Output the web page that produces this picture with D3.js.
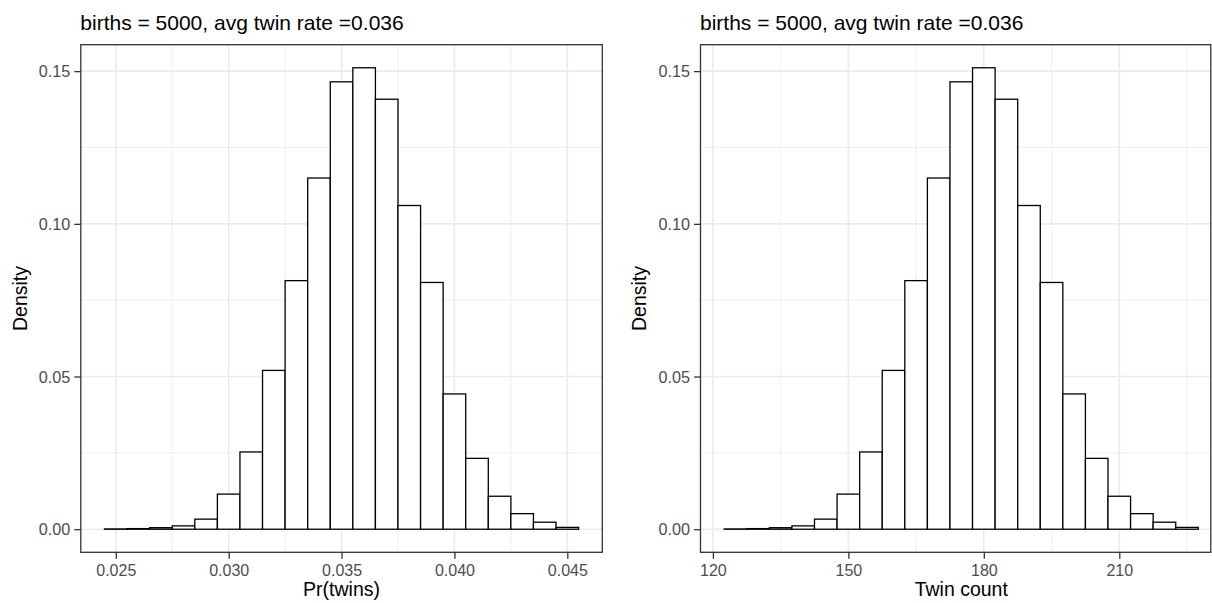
<!DOCTYPE html>
<html>
<head>
<meta charset="utf-8">
<script src="https://cdn.jsdelivr.net/npm/d3@7"></script>
<style>
  html, body { margin: 0; padding: 0; background: #ffffff; overflow: hidden; }
  svg { display: block; }
</style>
</head>
<body>
<div id="chart"></div>
<script>
// ---------------- data ----------------
const probBins  = [0.025, 0.026, 0.027, 0.028, 0.029, 0.030, 0.031, 0.032, 0.033, 0.034, 0.035,
                   0.036, 0.037, 0.038, 0.039, 0.040, 0.041, 0.042, 0.043, 0.044, 0.045];
const countBins = [125, 130, 135, 140, 145, 150, 155, 160, 165, 170, 175,
                   180, 185, 190, 195, 200, 205, 210, 215, 220, 225];
const density   = [0.0001, 0.0002, 0.0005, 0.0011, 0.0033, 0.0115, 0.0253, 0.0520, 0.0814, 0.1150, 0.1465,
                   0.1511, 0.1408, 0.1060, 0.0808, 0.0443, 0.0232, 0.0108, 0.0051, 0.0023, 0.0006];
const probBinWidth  = 0.001;
const countBinWidth = 5;
const probTicks   = [0.025, 0.030, 0.035, 0.040, 0.045];
const probTickLabels = ["0.025", "0.030", "0.035", "0.040", "0.045"];
const probMinor   = [0.0275, 0.0325, 0.0375, 0.0425];
const countTicks  = [120, 150, 180, 210];
const countTickLabels = ["120", "150", "180", "210"];
const countMinor  = [135, 165, 195, 225];
const densityTicks = [0.00, 0.05, 0.10, 0.15];
const densityTickLabels = ["0.00", "0.05", "0.10", "0.15"];
const densityMinor = [0.025, 0.075, 0.125];
const titleText = "births = 5000, avg twin rate =0.036";
const yTitle = "Density";
const xTitles = ["Pr(twins)", "Twin count"];

// ---------------- layout ----------------
const W = 1212, H = 603;
const FONT = "'Liberation Sans', Arial, Helvetica, sans-serif";
const svg = d3.select("#chart").append("svg").attr("width", W).attr("height", H);

const panelTop = 44.7, panelBottom = 552.3;
const panelW = 521.5;

function drawPanel(offsetX, bins, binW, ticks, tickLabels, minor, xTitle, borderRight) {
  const left = 80.8 + offsetX, right = left + panelW;
  const g = svg.append("g");
  const lo = bins[0] - binW / 2, hi = bins[bins.length - 1] + binW / 2;
  const padX = (hi - lo) * 0.05;
  const x = d3.scaleLinear().domain([lo - padX, hi + padX]).range([left, right]);
  const ymax = d3.max(density);
  const y = d3.scaleLinear().domain([-0.05 * ymax, 1.05 * ymax]).range([panelBottom, panelTop]);
  const boxRight = Math.min(right, borderRight);

  // background
  g.append("rect").attr("x", left).attr("y", panelTop).attr("width", boxRight - left)
    .attr("height", panelBottom - panelTop).attr("fill", "#ffffff");

  // minor grid
  g.selectAll(".xminor").data(minor).enter().append("line")
    .attr("x1", d => x(d)).attr("x2", d => x(d)).attr("y1", panelTop).attr("y2", panelBottom)
    .attr("stroke", "#EBEBEB").attr("stroke-width", 0.8);
  g.selectAll(".yminor").data(densityMinor).enter().append("line")
    .attr("x1", left).attr("x2", boxRight).attr("y1", d => y(d)).attr("y2", d => y(d))
    .attr("stroke", "#EBEBEB").attr("stroke-width", 0.8);
  // major grid
  g.selectAll(".xmajor").data(ticks).enter().append("line")
    .attr("x1", d => x(d)).attr("x2", d => x(d)).attr("y1", panelTop).attr("y2", panelBottom)
    .attr("stroke", "#EBEBEB").attr("stroke-width", 1.6);
  g.selectAll(".ymajor").data(densityTicks).enter().append("line")
    .attr("x1", left).attr("x2", boxRight).attr("y1", d => y(d)).attr("y2", d => y(d))
    .attr("stroke", "#EBEBEB").attr("stroke-width", 1.6);

  // bars
  g.selectAll(".bar").data(bins.map((b, i) => ({ b, v: density[i] }))).enter().append("rect")
    .attr("x", d => x(d.b - binW / 2))
    .attr("width", d => x(d.b + binW / 2) - x(d.b - binW / 2))
    .attr("y", d => y(d.v))
    .attr("height", d => y(0) - y(d.v))
    .attr("fill", "#ffffff").attr("stroke", "#000000").attr("stroke-width", 1.3);

  // border
  g.append("rect").attr("x", left).attr("y", panelTop).attr("width", boxRight - left)
    .attr("height", panelBottom - panelTop).attr("fill", "none")
    .attr("stroke", "#333333").attr("stroke-width", 1.3);

  // x axis
  const xAxis = d3.axisBottom(x).tickValues(ticks).tickSize(6.5).tickPadding(4)
    .tickFormat((d, i) => tickLabels[i]);
  const xa = g.append("g").attr("transform", `translate(0,${panelBottom})`).call(xAxis);
  xa.select(".domain").remove();
  xa.selectAll(".tick line").attr("stroke", "#333333").attr("stroke-width", 1.3);
  xa.selectAll(".tick text").attr("fill", "#4D4D4D").attr("font-family", FONT)
    .attr("font-size", 16).attr("dy", null).attr("y", 23.8);

  // y axis
  const yAxis = d3.axisLeft(y).tickValues(densityTicks).tickSize(6.5).tickPadding(4)
    .tickFormat((d, i) => densityTickLabels[i]);
  const ya = g.append("g").attr("transform", `translate(${left},0)`).call(yAxis);
  ya.select(".domain").remove();
  ya.selectAll(".tick line").attr("stroke", "#333333").attr("stroke-width", 1.3);
  ya.selectAll(".tick text").attr("fill", "#4D4D4D").attr("font-family", FONT)
    .attr("font-size", 16.2).attr("x", -10.5).attr("dy", "0.35em");

  // titles
  svg.append("text").attr("x", left - 0.5).attr("y", 29.5)
    .attr("font-family", FONT).attr("font-size", 21).attr("fill", "#000000")
    .text(titleText);
  svg.append("text").attr("x", (left + right) / 2).attr("y", 596)
    .attr("text-anchor", "middle").attr("font-family", FONT).attr("font-size", 19.5)
    .attr("fill", "#000000").text(xTitle);
  svg.append("text")
    .attr("transform", `translate(${26.5 + offsetX},${(panelTop + panelBottom) / 2}) rotate(-90)`)
    .attr("text-anchor", "middle").attr("font-family", FONT).attr("font-size", 19.5)
    .attr("fill", "#000000").text(yTitle);
}

drawPanel(0, probBins, probBinWidth, probTicks, probTickLabels, probMinor, xTitles[0], 10000);
drawPanel(619.7, countBins, countBinWidth, countTicks, countTickLabels, countMinor, xTitles[1], 1210.8);
</script>
</body>
</html>
